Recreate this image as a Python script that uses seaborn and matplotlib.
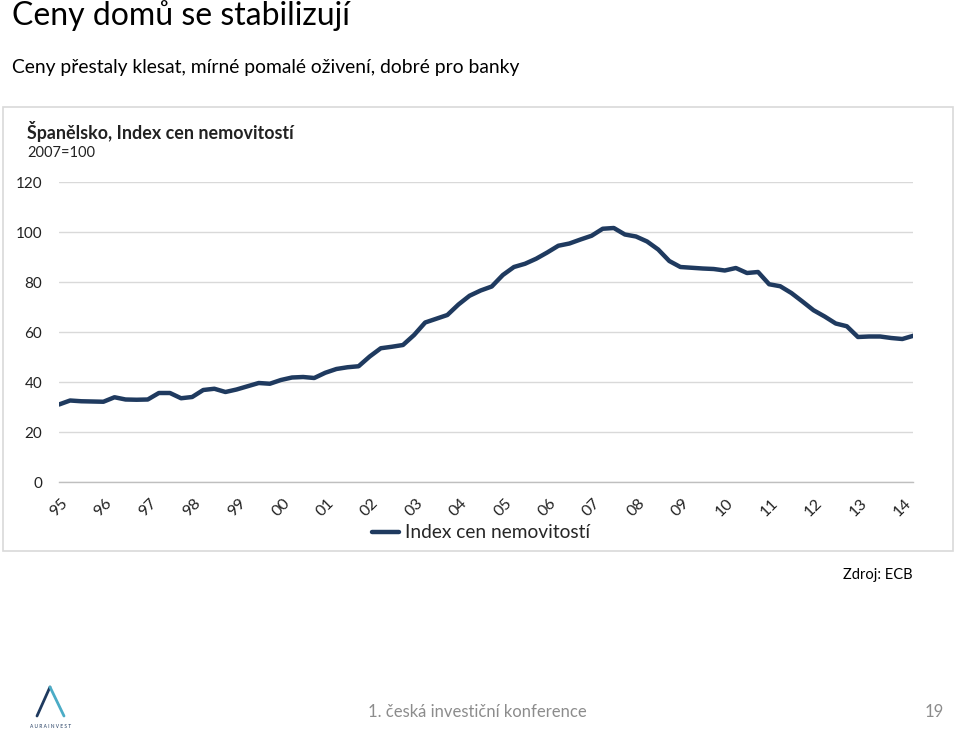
import numpy as np
import pandas as pd
import matplotlib
matplotlib.use("Agg")
import matplotlib.pyplot as plt
from matplotlib.lines import Line2D
from matplotlib.patches import Rectangle
import seaborn as sns

# ---- data (quarterly, 1995Q1 .. 2014Q2), 2007 = 100 ----
index_values = [
    31.0, 32.6, 32.3, 32.2, 32.1, 33.9, 33.0, 32.9, 33.0, 35.6,
    35.6, 33.5, 34.0, 36.8, 37.3, 36.0, 37.0, 38.3, 39.6, 39.3,
    40.8, 41.8, 42.0, 41.6, 43.7, 45.2, 45.9, 46.3, 50.2, 53.5,
    54.1, 54.8, 58.8, 63.8, 65.3, 66.8, 71.0, 74.5, 76.6, 78.2,
    82.8, 86.0, 87.3, 89.3, 91.8, 94.5, 95.4, 97.0, 98.5, 101.3,
    101.6, 99.0, 98.2, 96.2, 93.0, 88.4, 86.0, 85.7, 85.4, 85.2,
    84.6, 85.6, 83.6, 84.0, 79.1, 78.3, 75.6, 72.2, 68.7, 66.2,
    63.4, 62.3, 58.0, 58.2, 58.2, 57.6, 57.2, 58.5,
]
year_labels = ["95", "96", "97", "98", "99", "00", "01", "02", "03", "04",
               "05", "06", "07", "08", "09", "10", "11", "12", "13", "14"]
y_ticks = [0, 20, 40, 60, 80, 100, 120]
series_name = "Index cen nemovitostí"

df = pd.DataFrame({"q": np.arange(len(index_values)), "value": index_values,
                   "series": series_name})

sns.set_style("white")
plt.rcParams["font.family"] = ["Lato", "DejaVu Sans"]

W, H = 960, 734
fig = plt.figure(figsize=(W / 100, H / 100), dpi=100)

def fx(px):
    return px / W

def fy(py):
    return 1 - py / H

# chart frame
fig.add_artist(Rectangle((fx(3), fy(551)), fx(953) - fx(3), fy(107) - fy(551),
                         transform=fig.transFigure, fill=False,
                         edgecolor="#d9d9d9", linewidth=1.2))

ax = fig.add_axes([fx(59), fy(482), fx(913.4) - fx(59), fy(182) - fy(482)])
line_color = "#1f3a5f"
sns.lineplot(data=df, x="q", y="value", hue="series", palette=[line_color],
             linewidth=3.2, ax=ax, legend=False,
             solid_capstyle="round", solid_joinstyle="round")

ax.set_xlim(0, len(index_values) - 1)
ax.set_ylim(0, 120)
ax.set_yticks(y_ticks)
ax.set_yticklabels([str(v) for v in y_ticks], fontsize=11, color="#222222")
ax.set_xticks(np.arange(0, 4 * len(year_labels), 4))
ax.set_xticklabels(year_labels, rotation=45, ha="center", va="top",
                   fontsize=11.5, color="#222222")
ax.tick_params(axis="y", length=0, pad=12)
ax.tick_params(axis="x", length=5, width=0.8, color="#bfbfbf", direction="out", pad=5)
ax.set_xlabel("")
ax.set_ylabel("")
ax.grid(axis="y", color="#d9d9d9", linewidth=1)
ax.grid(axis="x", visible=False)
for s in ["top", "right", "left"]:
    ax.spines[s].set_visible(False)
ax.spines["bottom"].set_color("#bfbfbf")
ax.spines["bottom"].set_linewidth(1)

# legend
handle = Line2D([], [], color=line_color, linewidth=3.2)
fig.legend([handle], [series_name], loc="center", bbox_to_anchor=(fx(481), fy(533)),
           frameon=False, fontsize=13.8, handlelength=1.4, handletextpad=0.3)

# texts
fig.text(fx(12), fy(16), "Ceny domů se stabilizují", fontsize=23, va="center",
         ha="left", color="#000000")
fig.text(fx(12), fy(68), "Ceny přestaly klesat, mírné pomalé oživení, dobré pro banky",
         fontsize=13.9, va="center", ha="left", color="#000000")
fig.text(fx(27), fy(131), "Španělsko, Index cen nemovitostí", fontsize=12.9,
         fontweight="bold", va="center", ha="left", color="#222222")
fig.text(fx(27), fy(153), "2007=100", fontsize=10.5, va="center", ha="left",
         color="#222222")
fig.text(fx(913), fy(575), "Zdroj: ECB", fontsize=10.5, va="center", ha="right",
         color="#000000")
fig.text(fx(477), fy(712), "1. česká investiční konference", fontsize=12,
         va="center", ha="center", color="#8c8c8c")
fig.text(fx(944), fy(712), "19", fontsize=12, va="center", ha="right",
         color="#8c8c8c")

# logo
fig.add_artist(Line2D([fx(37), fx(50)], [fy(716), fy(687)], transform=fig.transFigure,
                      color="#1f3a5f", linewidth=2))
fig.add_artist(Line2D([fx(50), fx(64)], [fy(687), fy(716)], transform=fig.transFigure,
                      color="#4bacc6", linewidth=2))
fig.text(fx(51), fy(727), "A U R A I N V E S T", fontsize=3.5, va="center",
         ha="center", color="#1f3a5f")

fig.savefig("out.png", dpi=100, facecolor="white")
